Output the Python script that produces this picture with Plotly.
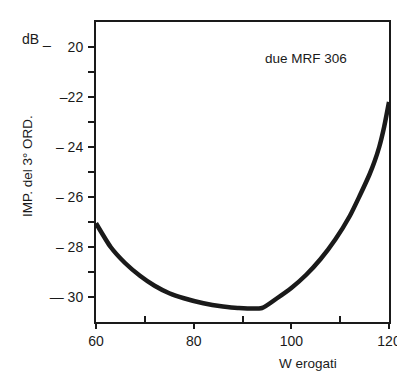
import plotly.graph_objects as go

# Data (power in W vs 3rd-order IMD in dB)
watts = [60, 63, 66, 69, 72, 75, 78, 82, 86, 89, 94, 97, 100, 103, 106, 109, 112, 114, 116, 117, 118, 119, 120]
imd_db = [-27.05, -28.0, -28.65, -29.15, -29.55, -29.85, -30.05, -30.25, -30.38, -30.44, -30.44,
          -30.06, -29.64, -29.12, -28.48, -27.7, -26.75, -25.95, -25.1, -24.6, -24.0, -23.2, -22.2]

x_ticks = [60, 80, 100, 120]
y_ticks = [-20, -22, -24, -26, -28, -30]
y_ticktext = ["20", "\u201322", "\u2013 24", "\u2013 26", "\u2013 28", "\u2014 30"]

FONT = "Liberation Sans, Arial, sans-serif"
INK = "#1a1a1a"

fig = go.Figure()
fig.add_trace(go.Scatter(x=watts, y=imd_db, mode="lines",
                         line=dict(color=INK, width=4.5, shape="spline", smoothing=0.6),
                         showlegend=False, hoverinfo="skip"))

fig.update_layout(
    width=405, height=373,
    margin=dict(l=88, r=13, t=13, b=59),
    paper_bgcolor="white", plot_bgcolor="white",
    font=dict(family=FONT, size=14, color=INK),
    xaxis=dict(range=[60, 120], tickvals=x_ticks, ticks="outside", ticklen=5, tickwidth=2,
               tickcolor=INK, showgrid=False, zeroline=False, showline=True, linewidth=2,
               linecolor=INK, mirror=True, tickfont=dict(size=14),
               minor=dict(tickvals=[70, 90, 110], ticks="inside", ticklen=6, tickwidth=2, tickcolor=INK)),
    yaxis=dict(range=[-31, -19], tickvals=y_ticks, ticktext=y_ticktext, ticks="outside", ticklen=6,
               tickwidth=2, tickcolor=INK, showgrid=False, zeroline=False, showline=True, linewidth=2,
               linecolor=INK, mirror=True, tickfont=dict(size=14), ticklabelstandoff=2,
               minor=dict(tickvals=[-21, -23, -25, -27, -29], ticks="outside", ticklen=6,
                          tickwidth=2, tickcolor=INK)),
)

fig.add_annotation(text="due MRF 306", xref="paper", yref="paper", x=(306 - 88) / 304, y=(314 - 50) / 301,
                   showarrow=False, font=dict(size=13.5, family=FONT, color=INK), xanchor="center", yanchor="middle")
fig.add_annotation(text="dB _", xref="paper", yref="paper", x=(26 - 88) / 304, y=(314 - 30) / 301,
                   showarrow=False, font=dict(size=14, family=FONT, color=INK), xanchor="center", yanchor="middle")
fig.add_annotation(text="IMP. del 3\u00b0 ORD.", xref="paper", yref="paper", x=(17 - 88) / 304,
                   y=(314 - 158) / 301, textangle=-90, showarrow=False,
                   font=dict(size=13.5, family=FONT, color=INK), xanchor="center", yanchor="middle")
fig.add_annotation(text="W erogati", xref="paper", yref="paper", x=(308 - 88) / 304, y=(314 - 356) / 301,
                   showarrow=False, font=dict(size=13.5, family=FONT, color=INK), xanchor="center", yanchor="middle")

fig.write_html("out.html")
